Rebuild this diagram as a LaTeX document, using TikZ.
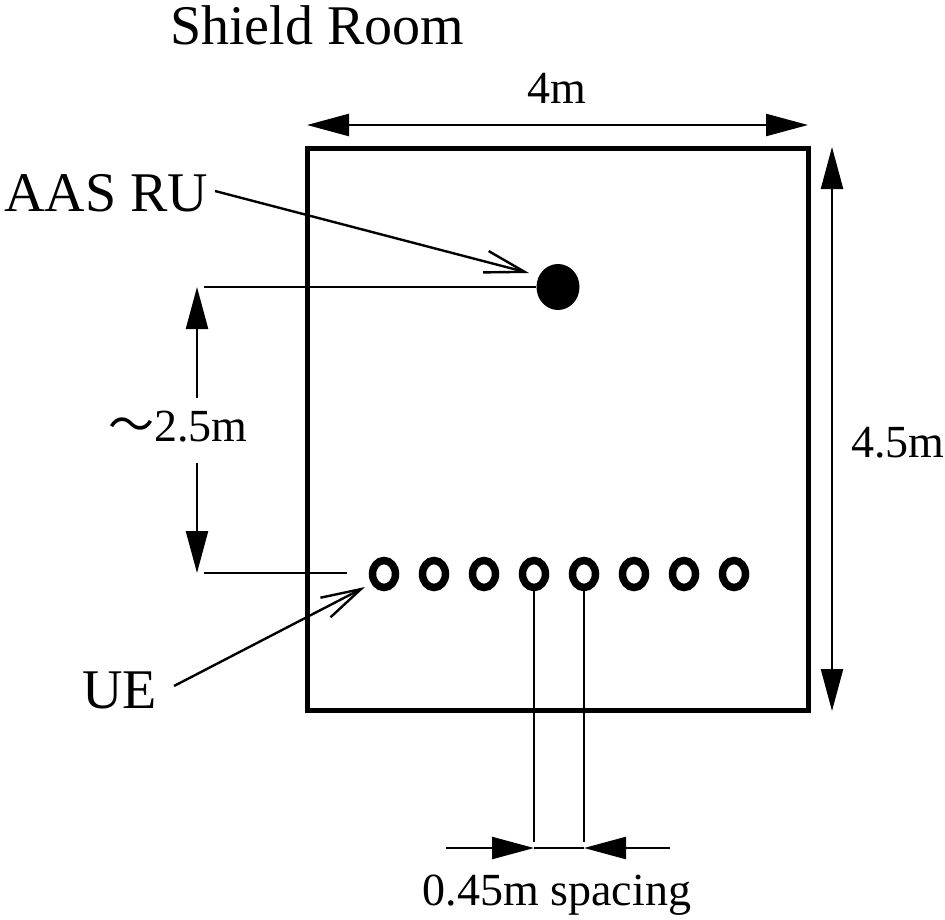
\documentclass[tikz,border=0pt]{standalone}
\usepackage{fontspec}
\setmainfont{Liberation Serif}
\newfontfamily\cjk{Noto Sans CJK JP}
\usetikzlibrary{arrows.meta,shapes.geometric}
\tikzset{
  big/.style={font=\fontsize{56}{60}\selectfont, inner sep=0pt},
  small/.style={font=\fontsize{46}{50}\selectfont, inner sep=0pt},
  thin/.style={line width=2.4pt},
  dimarrow/.style={thin, {Triangle[length=42pt,width=22pt]}-{Triangle[length=42pt,width=22pt]}},
  onearrow/.style={thin, -{Triangle[length=42pt,width=22pt]}},
  leader/.style={thin, -{Straight Barb[length=40pt,width=22pt,line width=2.4pt]}},
  ue/.style={draw, ellipse, line width=7.5pt, minimum width=23pt, minimum height=27pt, inner sep=0pt},
  ru/.style={fill, ellipse, minimum width=43pt, minimum height=46pt, inner sep=0pt},
}
\begin{document}
\begin{tikzpicture}[x=1pt,y=-1pt]
\useasboundingbox (0,0) rectangle (945,919);
% room
\draw[line width=5pt] (307,148) rectangle (808,710);
\node[big, anchor=base west] (title) at (170,44) {Shield Room};
% 4m
\coordinate (wl) at (307,125);
\coordinate (wr) at (808,125);
\draw[dimarrow] (wl) -- (wr);
\node[small, anchor=base] (w) at (557,103) {4m};
% 4.5m
\coordinate (ht) at (832,147);
\coordinate (hb) at (832,711);
\draw[dimarrow] (ht) -- (hb);
\node[small, anchor=base west] (h) at (851,457) {4.5m};
% RU
\node[ru] (ru) at (558,287) {};
\node[big, anchor=base west] (rulabel) at (4,211) {AAS RU};
\coordinate (rus) at (215,191);
\coordinate (rut) at (529,273);
\draw[leader] (rus) -- (rut);
% UEs
\foreach \i in {1,...,8} {
  \node[ue] (u\i) at ({384+50*(\i-1)},574) {};
}
\node[big, anchor=base west] (uelabel) at (82,708) {UE};
\coordinate (ues) at (174,686);
\coordinate (uet) at (365,587);
\draw[leader] (ues) -- (uet);
% 2.5m
\coordinate (e1) at (204,287);
\coordinate (e2) at (204,573);
\draw[thin] (e1) -- (ru.west);
\draw[thin] (e2) -- (347,573);
\coordinate (d1) at (197,287);
\coordinate (d2) at (197,573);
\coordinate (g1) at (197,398);
\coordinate (g2) at (197,463);
\draw[onearrow] (g1) -- (d1);
\draw[onearrow] (g2) -- (d2);
\node[small, anchor=base west] (dist) at (108,441) {{\cjk ～}2.5m};
% spacing
\coordinate (s4) at (534,848);
\coordinate (s5) at (584,848);
\draw[thin] (u4.south) -- (s4 |- 0,842);
\draw[thin] (u5.south) -- (s5 |- 0,842);
\coordinate (sl) at (446,848);
\coordinate (sr) at (670,848);
\draw[onearrow] (sl) -- (s4);
\draw[onearrow] (sr) -- (s5);
\draw[thin] (s4) -- (s5);
\node[small, anchor=base] (sp) at (557,905) {0.45m spacing};
\end{tikzpicture}
\end{document}
